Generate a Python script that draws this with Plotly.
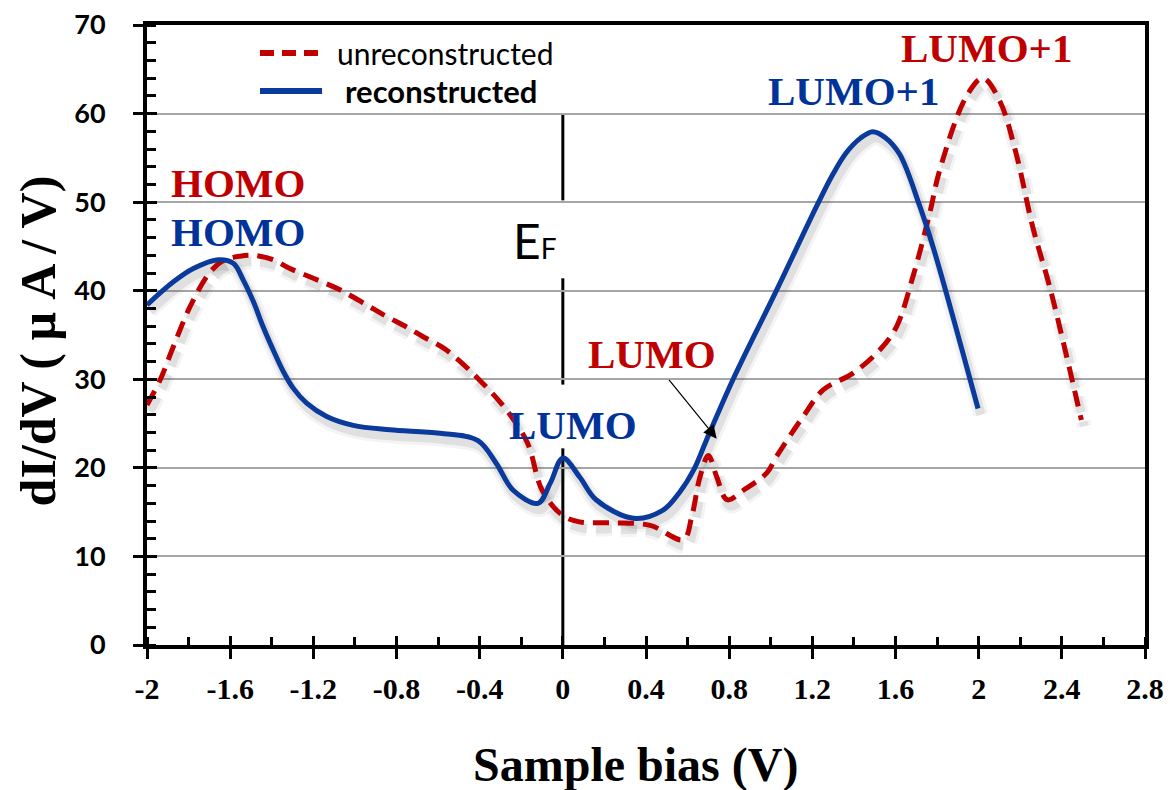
import plotly.graph_objects as go

# ---------------- data ----------------
recon_x = [-2.0, -1.873, -1.777, -1.657, -1.585, -1.537, -1.489, -1.441, -1.393, -1.345, -1.297,
           -1.232, -1.136, -1.008, -0.832, -0.591, -0.41,
           -0.32, -0.24, -0.12, -0.06, 0.0, 0.08, 0.16, 0.34, 0.48, 0.56, 0.63, 0.69, 0.819,
           1.027, 1.226, 1.30, 1.364, 1.43, 1.49, 1.55, 1.62, 1.716, 1.78, 1.845, 1.925, 1.997]
recon_y = [38.4, 41.0, 42.5, 43.5, 43.1, 41.2, 38.8, 35.9, 33.3, 30.9, 29.0,
           27.3, 25.8, 24.8, 24.3, 23.9, 23.1,
           20.5, 17.5, 16.0, 18.3, 21.1, 19.0, 16.4, 14.3, 15.2, 17.2, 19.8, 23.1, 30.0,
           40.0, 49.8, 53.2, 55.6, 57.2, 57.96, 57.3, 55.4, 49.6, 45.0, 39.7, 32.9, 26.7]

unrecon_x = [-2.0, -1.9375, -1.873, -1.793, -1.697, -1.633, -1.553, -1.489, -1.393, -1.3125,
             -1.2, -1.072, -0.944, -0.864, -0.752, -0.672, -0.56, -0.40,
             -0.27, -0.17, -0.10, -0.005, 0.08, 0.24, 0.42, 0.58, 0.62, 0.66, 0.70, 0.74, 0.79,
             0.87, 0.98, 1.028, 1.156, 1.252, 1.396, 1.524, 1.604, 1.684, 1.764, 1.8125, 1.94, 2.02,
             2.10, 2.18, 2.26, 2.341, 2.42, 2.494]
unrecon_y = [27.1, 29.9, 33.7, 38.2, 42.1, 43.4, 43.9, 44.0, 43.5, 42.5,
             41.4, 40.1, 38.4, 37.3, 35.9, 34.8, 33.3, 29.9,
             26.5, 22.8, 17.5, 14.7, 13.9, 13.8, 13.5, 11.9, 14.5, 19.0, 21.4, 19.0, 16.4,
             17.5, 19.4, 21.3, 25.8, 28.8, 30.7, 33.3, 35.9, 41.6, 48.7, 53.6, 61.9, 64.0,
             61.5, 55.5, 47.2, 40.5, 32.9, 25.4]

x_tickvals = [-2, -1.6, -1.2, -0.8, -0.4, 0, 0.4, 0.8, 1.2, 1.6, 2, 2.4, 2.8]
x_ticktext = ["-2", "-1.6", "-1.2", "-0.8", "-0.4", "0", "0.4", "0.8", "1.2", "1.6", "2", "2.4", "2.8"]
y_tickvals = [0, 10, 20, 30, 40, 50, 60, 70]

# Fermi-level marker segments (y ranges at bias 0)
ef_segments = [(0, 22.2), (29.4, 41.4), (50.2, 60.0)]

# peak labels: (text, x, y, colour)
peak_labels = [
    ("HOMO", -1.56, 52.2, "#C00000"),
    ("HOMO", -1.56, 46.6, "#003399"),
    ("LUMO", 0.05, 24.8, "#003399"),
    ("LUMO", 0.43, 32.9, "#C00000"),
    ("LUMO+1", 1.40, 62.5, "#003399"),
    ("LUMO+1", 2.04, 67.4, "#C00000"),
]

RED = "#C00000"
BLUE = "#0A3A9C"

fig = go.Figure()

# soft shadows (derived from the data, shifted slightly right/down)
for w, a in [(15, 0.06), (9, 0.11)]:
    fig.add_trace(go.Scatter(x=[v + 0.014 for v in unrecon_x], y=[v - 0.7 for v in unrecon_y],
                             mode="lines", line=dict(color=f"rgba(60,60,60,{a})", width=w,
                                                     shape="spline", dash="16px,9px"),
                             hoverinfo="skip", showlegend=False))
    fig.add_trace(go.Scatter(x=[v + 0.014 for v in recon_x], y=[v - 0.7 for v in recon_y],
                             mode="lines", line=dict(color=f"rgba(60,60,60,{a})", width=w,
                                                     shape="spline"),
                             hoverinfo="skip", showlegend=False))

fig.add_trace(go.Scatter(x=unrecon_x, y=unrecon_y, mode="lines", name="unreconstructed",
                         line=dict(color=RED, width=5, shape="spline", dash="16px,9px"),
                         showlegend=False))
fig.add_trace(go.Scatter(x=recon_x, y=recon_y, mode="lines", name="reconstructed",
                         line=dict(color=BLUE, width=5, shape="spline"),
                         showlegend=False))
# dummy trace for overlay axes
fig.add_trace(go.Scatter(x=[None], y=[None], xaxis="x2", yaxis="y2", showlegend=False,
                         hoverinfo="skip"))

shapes = []
for y0, y1 in ef_segments:
    shapes.append(dict(type="line", xref="x", yref="y", x0=0, x1=0, y0=y0, y1=y1,
                       line=dict(color="black", width=3), layer="below"))
# manual legend samples
shapes.append(dict(type="line", xref="paper", yref="paper", x0=0.1132, x1=0.1754, y0=0.9548, y1=0.9548,
                   line=dict(color=RED, width=6, dash="14px,8px")))
shapes.append(dict(type="line", xref="paper", yref="paper", x0=0.1132, x1=0.1754, y0=0.8935, y1=0.8935,
                   line=dict(color=BLUE, width=6)))

serif_b = dict(family="Liberation Serif, Times New Roman, serif", color="black")

annotations = []
for txt, x, y, c in peak_labels:
    annotations.append(dict(text=f"<b>{txt}</b>", x=x, y=y, xref="x", yref="y", showarrow=False,
                            font=dict(family="Liberation Serif, Times New Roman, serif", size=41, color=c)))
annotations.append(dict(text="E<span style='font-size:28px'>F</span>", x=-0.135, y=45.7,
                        xref="x", yref="y", showarrow=False,
                        font=dict(family="Lato, Open Sans, sans-serif", size=48, color="black")))
annotations.append(dict(text="", x=0.74, y=23.3, ax=0.505, ay=30.1, xref="x", yref="y",
                        axref="x", ayref="y", showarrow=True, arrowhead=2, arrowsize=2.2,
                        arrowwidth=1.2, arrowcolor="black"))
annotations.append(dict(text="unreconstructed", x=0.1884, y=0.9548, xref="paper", yref="paper",
                        xanchor="left", yanchor="middle", showarrow=False,
                        font=dict(family="Lato, Open Sans, sans-serif", size=30, color="black")))
annotations.append(dict(text="<b>reconstructed</b>", x=0.1964, y=0.8935, xref="paper", yref="paper",
                        xanchor="left", yanchor="middle", showarrow=False,
                        font=dict(family="Lato, Open Sans, sans-serif", size=31, color="black")))
# axis titles
annotations.append(dict(text="<b>Sample bias (V)</b>", x=0.489, y=-0.1935, xref="paper", yref="paper",
                        xanchor="center", yanchor="middle", showarrow=False,
                        font=dict(serif_b, size=48)))
annotations.append(dict(text="<b>dI/dV ( μ A / V)</b>", x=-0.109, y=0.49, xref="paper", yref="paper",
                        xanchor="center", yanchor="middle", textangle=-90, showarrow=False,
                        font=dict(serif_b, size=50)))

fig.update_layout(
    width=1170, height=790,
    margin=dict(l=147, r=25, t=25, b=145),
    paper_bgcolor="white", plot_bgcolor="white",
    shapes=shapes, annotations=annotations,
    xaxis=dict(range=[-2, 2.8], tickvals=x_tickvals, ticktext=[f"<b>{t}</b>" for t in x_ticktext],
               ticks="outside", ticklen=10, tickwidth=3, tickcolor="black",
               minor=dict(dtick=0.2, tick0=-2, ticks="inside", ticklen=8, tickwidth=3, tickcolor="black"),
               showline=True, linewidth=4, linecolor="black", mirror=True,
               showgrid=False, zeroline=False, ticklabelstandoff=4,
               tickfont=dict(serif_b, size=30), automargin=False),
    yaxis=dict(range=[0, 70], tickvals=y_tickvals, ticktext=[f"<b>{v}</b>" for v in y_tickvals],
               ticks="outside", ticklen=10, tickwidth=3, tickcolor="black",
               minor=dict(dtick=2, tick0=0, ticks="inside", ticklen=9, tickwidth=3, tickcolor="black"),
               showline=True, linewidth=4, linecolor="black", mirror=True,
               showgrid=True, gridcolor="#A6A6A6", gridwidth=1.5, zeroline=False,
               ticklabelstandoff=22,
               tickfont=dict(family="Lato, sans-serif", size=27, color="black"),
               automargin=False),
    xaxis2=dict(overlaying="x", anchor="y2", range=[-2, 2.8], tickvals=x_tickvals,
                ticks="inside", ticklen=9, tickwidth=3, tickcolor="black",
                showticklabels=False, showgrid=False, zeroline=False, showline=False),
    yaxis2=dict(overlaying="y", anchor="x2", range=[0, 70], tickvals=y_tickvals,
                ticks="inside", ticklen=10, tickwidth=3, tickcolor="black",
                showticklabels=False, showgrid=False, zeroline=False, showline=False),
)

fig.write_html("out.html")
